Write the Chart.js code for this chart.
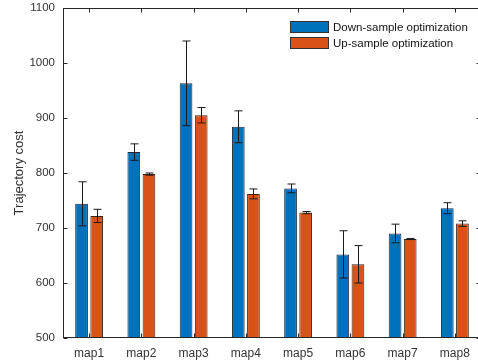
<!DOCTYPE html>
<html>
<head>
<meta charset="utf-8">
<script src="https://cdn.jsdelivr.net/npm/chart.js@4"></script>
<style>
  html, body { margin: 0; padding: 0; background: #fff; }
  #wrap { width: 478px; height: 364px; }
</style>
</head>
<body>
<div id="wrap"><canvas id="costChart"></canvas></div>
<script>
const maps = ['map1', 'map2', 'map3', 'map4', 'map5', 'map6', 'map7', 'map8'];
const downCost = [744, 838, 963, 884, 772, 652, 690, 736];
const downErr = [40, 15, 77, 29, 8, 43, 17, 10];
const upCost = [722, 798, 905, 762, 728, 634, 680, 708];
const upErr = [12, 2, 14, 9, 2, 34, 1, 5];
const yTicks = [500, 600, 700, 800, 900, 1000, 1100];

const FONT = "'Liberation Sans', Arial, sans-serif";

// the original axes box runs a few px past the right edge of the image
const widenArea = {
    id: 'widenArea',
    afterLayout(chart) {
        const xs = chart.scales.x;
        chart.chartArea.right += 4;
        chart.chartArea.width += 4;
        xs.right += 4;
        xs.width += 4;
        xs.configure();
    }
};

// error bars, drawn through the scales
const errorBars = {
    id: 'errorBars',
    afterDatasetsDraw(chart) {
        const c = chart.ctx;
        const y = chart.scales.y;
        c.save();
        c.strokeStyle = '#1a1a1a';
        c.lineWidth = 1;
        chart.data.datasets.forEach((ds, i) => {
            const meta = chart.getDatasetMeta(i);
            meta.data.forEach((bar, j) => {
                const v = ds.data[j], e = ds.errors[j];
                const x = Math.round(bar.x) + 0.5;
                const top = y.getPixelForValue(v + e);
                const bot = y.getPixelForValue(v - e);
                c.beginPath();
                c.moveTo(x, top); c.lineTo(x, bot);
                c.moveTo(x - 4, top); c.lineTo(x + 4, top);
                c.moveTo(x - 4, bot); c.lineTo(x + 4, bot);
                c.stroke();
            });
        });
        c.restore();
    }
};

// matlab style box with inward ticks + legend
const boxAndLegend = {
    id: 'boxAndLegend',
    afterDraw(chart) {
        const c = chart.ctx;
        const a = chart.chartArea;
        const xs = chart.scales.x, ys = chart.scales.y;
        c.save();
        c.strokeStyle = '#262626';
        c.lineWidth = 1;
        const L = Math.round(a.left) + 0.5, R = Math.round(a.right) - 0.5;
        const T = Math.round(a.top) + 0.5, B = Math.round(a.bottom) - 0.5;
        c.strokeRect(L, T, R - L, B - T);
        c.beginPath();
        yTicks.forEach(v => {
            const py = Math.round(ys.getPixelForValue(v)) + 0.5;
            c.moveTo(L, py); c.lineTo(L + 4, py);
            c.moveTo(R, py); c.lineTo(R - 4, py);
        });
        maps.forEach((m, i) => {
            const px = Math.round(xs.getPixelForValue(i)) + 0.5;
            c.moveTo(px, T); c.lineTo(px, T + 4);
            c.moveTo(px, B); c.lineTo(px, B - 4);
        });
        c.stroke();

        // legend
        c.font = '11.5px ' + FONT;
        c.textBaseline = 'middle';
        chart.data.datasets.forEach((ds, i) => {
            const lx = a.right - 191, ly = a.top + 19 + i * 16;
            c.fillStyle = ds.backgroundColor;
            c.fillRect(lx, ly - 6, 39, 12);
            c.strokeStyle = '#333';
            c.strokeRect(lx + 0.5, ly - 5.5, 38, 11);
            c.fillStyle = '#111';
            c.fillText(ds.label, lx + 43, ly + 0.5);
        });
        c.restore();
    }
};

new Chart(document.getElementById('costChart'), {
    type: 'bar',
    data: {
        labels: maps,
        datasets: [{
            label: 'Down-sample optimization',
            data: downCost,
            errors: downErr,
            backgroundColor: '#0072BD',
            borderColor: '#1b2a38',
            borderWidth: 1,
            categoryPercentage: 0.58,
            barPercentage: 0.84,
        }, {
            label: 'Up-sample optimization',
            data: upCost,
            errors: upErr,
            backgroundColor: '#D95319',
            borderColor: '#3a2418',
            borderWidth: 1,
            categoryPercentage: 0.58,
            barPercentage: 0.84,
        }]
    },
    options: {
        responsive: true,
        maintainAspectRatio: false,
        animation: false,
        layout: { padding: { top: 8, right: 1, left: 0, bottom: 0 } },
        plugins: {
            legend: { display: false },
            tooltip: { enabled: false }
        },
        scales: {
            x: {
                grid: { display: false, drawTicks: false },
                border: { display: false },
                ticks: { color: '#333', font: { family: FONT, size: 12 }, padding: 8 },
                afterFit(s) {
                    s.height = 26;
                    s.paddingLeft = 0;
                    s.paddingRight = 0;
                }
            },
            y: {
                min: 500,
                max: 1100,
                grid: { display: false, drawTicks: false },
                border: { display: false },
                ticks: {
                    stepSize: 100,
                    color: '#333',
                    font: { family: FONT, size: 11.5 },
                    padding: 8,
                    callback: v => String(v)
                },
                title: {
                    display: true,
                    text: 'Trajectory cost',
                    color: '#333',
                    font: { family: FONT, size: 13 },
                    padding: { top: 12, bottom: 0 }
                },
                afterFit(s) {
                    s.width = 63;
                    s.paddingTop = 0;
                    s.paddingBottom = 0;
                }
            }
        }
    },
    plugins: [widenArea, errorBars, boxAndLegend]
});
</script>
</body>
</html>
